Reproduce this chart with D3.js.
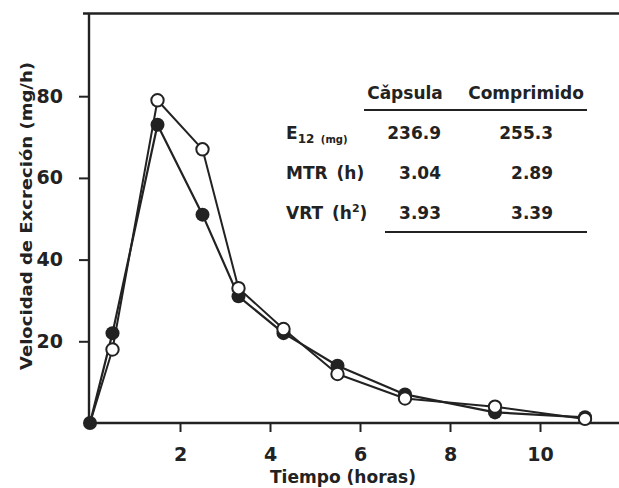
<!DOCTYPE html>
<html>
<head>
<meta charset="utf-8">
<script src="https://cdn.jsdelivr.net/npm/d3@7"></script>
<style>
  html, body { margin: 0; padding: 0; background: #fff; }
  svg { display: block; }
  text { font-family: "DejaVu Sans", Verdana, sans-serif; font-weight: bold; fill: #222; }
</style>
</head>
<body>
<svg id="chart" width="619" height="488"></svg>
<script>
// Sampling times (h)
const times = [0, 0.5, 1.5, 2.5, 3.3, 4.3, 5.5, 7, 9, 11];
// Excretion rate (mg/h), open-circle series
const rateOpen = [0, 18, 79, 67, 33, 23, 12, 6, 4, 1];
// Excretion rate (mg/h), filled-circle series
const rateFilled = [0, 22, 73, 51, 31, 22, 14, 7, 2.6, 1.4];

const xTicks = [2, 4, 6, 8, 10];
const yTicks = [20, 40, 60, 80];

// Inset parameter table
const tableCols = ["Cǎpsula", "Comprimido"];
const tableRowNames = ["E", "MTR (h)", "VRT (h"];
const tableCapsula = ["236.9", "3.04", "3.93"];
const tableComprimido = ["255.3", "2.89", "3.39"];

const ink = "#222";
const font = "'DejaVu Sans', Verdana, sans-serif";
const svg = d3.select("#chart");

const x = d3.scaleLinear().domain([0, 12]).range([90, 630]);
const y = d3.scaleLinear().domain([0, 100]).range([423, 14.5]);

// Frame: top rule and bottom axis run off the right edge
svg.append("line").attr("x1", 83).attr("x2", 640).attr("y1", 13.5).attr("y2", 13.5)
  .attr("stroke", ink).attr("stroke-width", 2.6);

const yAxis = svg.append("g").attr("transform", "translate(89,0)")
  .call(d3.axisLeft(y).tickValues(yTicks).tickSize(10).tickPadding(16).tickFormat(d3.format("d")));
yAxis.select(".domain").remove();
yAxis.append("line").attr("x1", 0).attr("x2", 0).attr("y1", 13).attr("y2", 424)
  .attr("stroke", ink).attr("stroke-width", 2.4);
yAxis.selectAll(".tick line").attr("stroke", ink).attr("stroke-width", 2);
yAxis.selectAll(".tick text").attr("font-size", 19).attr("fill", ink)
  .style("font-family", font).style("font-weight", "bold");

const xAxis = svg.append("g").attr("transform", "translate(0,423)")
  .call(d3.axisBottom(x).tickValues(xTicks).tickSize(9).tickPadding(16).tickFormat(d3.format("d")));
xAxis.select(".domain").remove();
xAxis.append("line").attr("x1", 88).attr("x2", 640).attr("y1", 0).attr("y2", 0)
  .attr("stroke", ink).attr("stroke-width", 2.6);
xAxis.selectAll(".tick line").attr("stroke", ink).attr("stroke-width", 2);
xAxis.selectAll(".tick text").attr("font-size", 19).attr("fill", ink)
  .style("font-family", font).style("font-weight", "bold");

// Axis titles
svg.append("text").attr("x", 343).attr("y", 483).attr("text-anchor", "middle")
  .attr("font-size", 17).attr("textLength", 146).attr("lengthAdjust", "spacingAndGlyphs")
  .text("Tiempo (horas)");
svg.append("text").attr("transform", "translate(32,216) rotate(-90)").attr("text-anchor", "middle")
  .attr("font-size", 16.5).attr("textLength", 308).attr("lengthAdjust", "spacingAndGlyphs")
  .text("Velocidad de Excreción (mg/h)");

// Curves
const line = d3.line().x(d => x(d[0])).y(d => y(d[1]));
const openPts = times.map((t, i) => [t, rateOpen[i]]);
const filledPts = times.map((t, i) => [t, rateFilled[i]]);

svg.append("path").datum(openPts).attr("d", line)
  .attr("fill", "none").attr("stroke", ink).attr("stroke-width", 2).attr("stroke-linejoin", "round");
svg.append("path").datum(filledPts).attr("d", line)
  .attr("fill", "none").attr("stroke", ink).attr("stroke-width", 2.2).attr("stroke-linejoin", "round");

svg.append("g").selectAll("circle").data(filledPts).join("circle")
  .attr("cx", d => x(d[0])).attr("cy", d => y(d[1])).attr("r", 7)
  .attr("fill", ink);
svg.append("g").selectAll("circle").data(openPts.slice(1)).join("circle")
  .attr("cx", d => x(d[0])).attr("cy", d => y(d[1])).attr("r", 6.2)
  .attr("fill", "#fff").attr("stroke", ink).attr("stroke-width", 2);

// Parameter table
const tbl = svg.append("g");
const colCenters = [405, 526];
const colRight = [441, 553];
const rowBase = [139, 179, 219];

tbl.selectAll("text.hdr").data(tableCols).join("text").attr("class", "hdr")
  .attr("x", (d, i) => colCenters[i]).attr("y", 99).attr("text-anchor", "middle")
  .attr("font-size", 17).text(d => d);
tbl.append("line").attr("x1", 364).attr("x2", 587).attr("y1", 110).attr("y2", 110)
  .attr("stroke", ink).attr("stroke-width", 2);
tbl.append("line").attr("x1", 385).attr("x2", 587).attr("y1", 232).attr("y2", 232)
  .attr("stroke", ink).attr("stroke-width", 2);

const rowLabels = tbl.selectAll("text.row").data(tableRowNames).join("text").attr("class", "row")
  .attr("x", 286).attr("y", (d, i) => rowBase[i]).attr("font-size", 17)
  .attr("word-spacing", 3).text(d => d);
rowLabels.filter((d, i) => i === 0).append("tspan").attr("font-size", 12).attr("dy", 4).text("12");
rowLabels.filter((d, i) => i === 0).append("tspan").attr("font-size", 10).text(" (mg)");
rowLabels.filter((d, i) => i === 2).append("tspan").attr("font-size", 11).attr("dy", -7).text("2");
rowLabels.filter((d, i) => i === 2).append("tspan").attr("font-size", 17).attr("dy", 7).text(")");

tbl.selectAll("text.c1").data(tableCapsula).join("text").attr("class", "c1")
  .attr("x", colRight[0]).attr("y", (d, i) => rowBase[i]).attr("text-anchor", "end")
  .attr("font-size", 17).text(d => d);
tbl.selectAll("text.c2").data(tableComprimido).join("text").attr("class", "c2")
  .attr("x", colRight[1]).attr("y", (d, i) => rowBase[i]).attr("text-anchor", "end")
  .attr("font-size", 17).text(d => d);
</script>
</body>
</html>
